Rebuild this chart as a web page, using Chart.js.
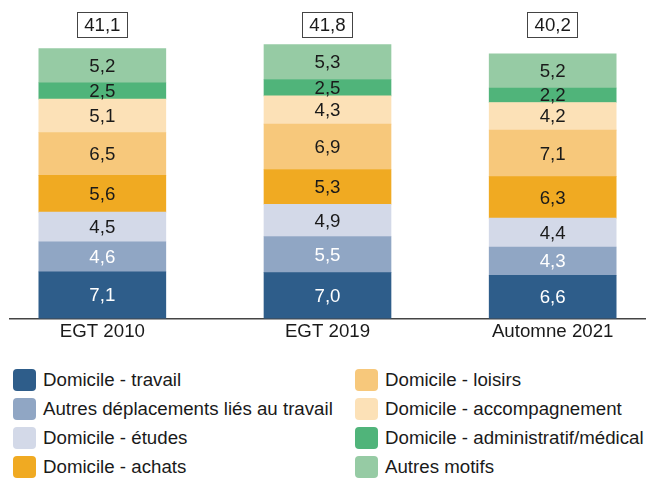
<!DOCTYPE html>
<html lang="fr">
<head>
  <meta charset="UTF-8" />
  <title>Motifs de déplacement</title>
  <script src="https://cdn.jsdelivr.net/npm/chart.js"></script>
  <style>
    body { margin: 0; background: #fff; font-family: "Liberation Sans", Arial, sans-serif; }
    #wrap { position: relative; width: 652px; height: 478px; }
    #chart { position: absolute; left: 0; top: 0; }
    #legend { position: absolute; left: 13px; top: 369px; width: 640px; height: 112px;
      display: grid; grid-template-columns: 342px 290px; grid-auto-flow: column;
      grid-template-rows: repeat(4, 29px); }
    .item { display: flex; align-items: flex-start; font-size: 18.7px; color: #1a1a1a; white-space: nowrap; }
    .box { width: 23px; height: 22px; border-radius: 4px; margin-right: 7px; flex: none; }
    .item span { line-height: 22px; }
  </style>
</head>
<body>
  <div id="wrap">
    <canvas id="chart" width="652" height="345"></canvas>
    <div id="legend"></div>
  </div>

  <script>
    const categories = ["EGT 2010", "EGT 2019", "Automne 2021"];
    const motifs = [
      "Domicile - travail",
      "Autres déplacements liés au travail",
      "Domicile - études",
      "Domicile - achats",
      "Domicile - loisirs",
      "Domicile - accompagnement",
      "Domicile - administratif/médical",
      "Autres motifs"
    ];
    const travail = [7.1, 7.0, 6.6];
    const autresTravail = [4.6, 5.5, 4.3];
    const etudes = [4.5, 4.9, 4.4];
    const achats = [5.6, 5.3, 6.3];
    const loisirs = [6.5, 6.9, 7.1];
    const accompagnement = [5.1, 4.3, 4.2];
    const administratif = [2.5, 2.5, 2.2];
    const autresMotifs = [5.2, 5.3, 5.2];
    const totals = [41.1, 41.8, 40.2];

    const colors = ["#2e5d8a", "#90a6c4", "#d3d9e8", "#f0aa22", "#f7c87b", "#fce1b7", "#50b47a", "#96cba4"];
    const labelColors = ["#ffffff", "#ffffff", "#1a1a1a", "#1a1a1a", "#1a1a1a", "#1a1a1a", "#1a1a1a", "#1a1a1a"];
    const series = [travail, autresTravail, etudes, achats, loisirs, accompagnement, administratif, autresMotifs];

    const fmt = v => v.toFixed(1).replace(".", ",");
    const FONT = '"Liberation Sans", Arial, sans-serif';

    // labels inside the segments + boxed totals above the bars
    const valueLabels = {
      id: "valueLabels",
      afterDatasetsDraw(chart) {
        const ctx = chart.ctx;
        ctx.save();
        ctx.font = "18.7px " + FONT;
        ctx.textAlign = "center";
        ctx.textBaseline = "middle";
        chart.data.datasets.forEach((ds, i) => {
          chart.getDatasetMeta(i).data.forEach((bar, j) => {
            const p = bar.getCenterPoint();
            ctx.fillStyle = labelColors[i];
            ctx.fillText(fmt(series[i][j]), p.x, p.y + 1);
          });
        });
        const first = chart.getDatasetMeta(0).data;
        totals.forEach((t, j) => {
          const x = first[j].x;
          const txt = fmt(t);
          const w = ctx.measureText(txt).width + 14;
          ctx.strokeStyle = "#444";
          ctx.lineWidth = 1;
          ctx.strokeRect(Math.round(x - w / 2) + 0.5, 12.5, Math.round(w), 25);
          ctx.fillStyle = "#1a1a1a";
          ctx.fillText(txt, x, 26);
        });
        ctx.restore();
      }
    };

    new Chart(document.getElementById("chart"), {
      type: "bar",
      data: {
        datasets: series.map((vals, i) => ({
          label: motifs[i],
          data: vals.map((v, j) => ({ x: j, y: v })),
          backgroundColor: colors[i],
          barThickness: 127,
          borderWidth: 0
        }))
      },
      options: {
        responsive: false,
        animation: false,
        layout: { padding: { left: 10, right: 7, top: 0, bottom: 0 } },
        plugins: { legend: { display: false }, tooltip: { enabled: false } },
        scales: {
          x: {
            type: "linear",
            stacked: true,
            offset: false,
            min: -0.41,
            max: 2.41,
            grid: { display: false, drawTicks: false },
            border: { display: true, color: "#444", width: 1.5 },
            ticks: {
              stepSize: 1,
              autoSkip: false,
              maxRotation: 0,
              padding: 2,
              color: "#1a1a1a",
              font: { family: FONT, size: 18.7 },
              callback: v => Number.isInteger(v) ? categories[v] : ""
            }
          },
          y: {
            stacked: true,
            display: false,
            min: 0,
            max: 48.5
          }
        }
      },
      plugins: [valueLabels]
    });

    const legend = document.getElementById("legend");
    motifs.forEach((m, i) => {
      const el = document.createElement("div");
      el.className = "item";
      el.innerHTML = '<div class="box" style="background:' + colors[i] + '"></div><span>' + m + '</span>';
      legend.appendChild(el);
    });
  </script>
</body>
</html>
